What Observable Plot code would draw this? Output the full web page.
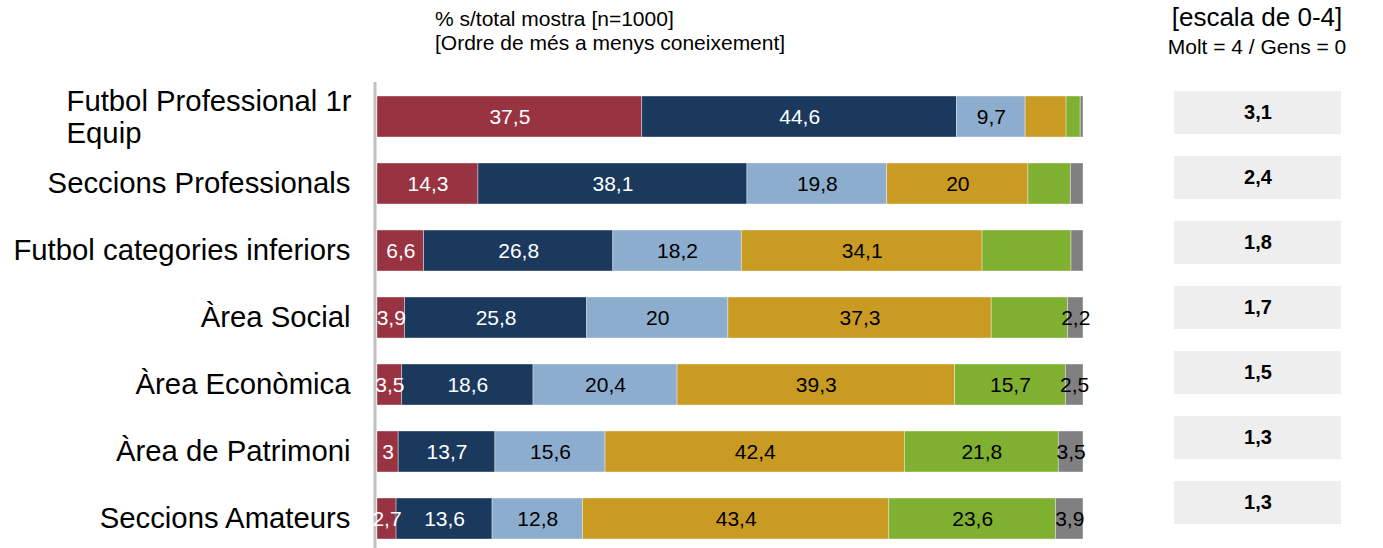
<!DOCTYPE html>
<html>
<head>
<meta charset="utf-8">
<script src="https://cdn.jsdelivr.net/npm/d3@7"></script>
<script src="https://cdn.jsdelivr.net/npm/@observablehq/plot@0.6"></script>
<style>
  html, body { margin: 0; padding: 0; background: #fff; }
  #wrap { position: relative; width: 1383px; height: 548px; overflow: hidden; font-family: "Liberation Sans", Arial, sans-serif; color: #000; }
  .hdr { position: absolute; white-space: nowrap; }
  #h1 { left: 435px; top: 7px; font-size: 21px; line-height: 24px; }
  #h2 { left: 1157px; width: 200px; top: 2px; text-align: center; font-size: 26px; line-height: 30px; }
  #h3 { left: 1157px; width: 200px; top: 35px; text-align: center; font-size: 21px; line-height: 24px; }
  #main { position: absolute; left: 0; top: 60px; }
  #side { position: absolute; left: 1150px; top: 60px; }
</style>
</head>
<body>
<div id="wrap">
  <div class="hdr" id="h1">% s/total mostra [n=1000]<br>[Ordre de més a menys coneixement]</div>
  <div class="hdr" id="h2">[escala de 0-4]</div>
  <div class="hdr" id="h3">Molt = 4 / Gens = 0</div>
  <div id="main"></div>
  <div id="side"></div>
</div>
<script>
const categories = [
  "Futbol Professional 1r Equip",
  "Seccions Professionals",
  "Futbol categories inferiors",
  "Àrea Social",
  "Àrea Econòmica",
  "Àrea de Patrimoni",
  "Seccions Amateurs"
];
const categoryLabels = [
  "Futbol Professional 1r\nEquip",
  "Seccions Professionals",
  "Futbol categories inferiors",
  "Àrea Social",
  "Àrea Econòmica",
  "Àrea de Patrimoni",
  "Seccions Amateurs"
];
const series = ["Molt", "Bastant", "Regular", "Poc", "Gens", "NS/NC"];
const molt    = [37.5, 14.3, 6.6, 3.9, 3.5, 3.0, 2.7];
const bastant = [44.6, 38.1, 26.8, 25.8, 18.6, 13.7, 13.6];
const regular = [9.7, 19.8, 18.2, 20.0, 20.4, 15.6, 12.8];
const poc     = [5.8, 20.0, 34.1, 37.3, 39.3, 42.4, 43.4];
const gens    = [2.0, 6.0, 12.6, 10.8, 15.7, 21.8, 23.6];
const nsnc    = [0.4, 1.8, 1.7, 2.2, 2.5, 3.5, 3.9];
// segments drawn without a value label in the original: [series, category index]
const unlabeled = [["Poc", 0], ["Gens", 0], ["Gens", 1], ["Gens", 2], ["Gens", 3], ["NS/NC", 0], ["NS/NC", 1], ["NS/NC", 2]];
const means = [3.1, 2.4, 1.8, 1.7, 1.5, 1.3, 1.3];
const colors = ["#983342", "#1a395d", "#8cadcd", "#c99b23", "#7fb031", "#808080"];
const whiteText = ["Molt", "Bastant"];

const seriesValues = [molt, bastant, regular, poc, gens, nsnc];
const data = [];
series.forEach((s, si) => {
  categories.forEach((c, ci) => {
    data.push({
      category: c,
      series: s,
      value: seriesValues[si][ci],
      labeled: !unlabeled.some(([us, uc]) => us === s && uc === ci)
    });
  });
});
const fmt = v => String(v).replace(".", ",");

const main = Plot.plot({
  width: 1150,
  height: 488,
  marginLeft: 377,
  marginRight: 67,
  marginTop: 33,
  marginBottom: 5,
  style: { fontFamily: "'Liberation Sans', Arial, sans-serif", background: "transparent" },
  x: { domain: [0, 100], axis: null },
  y: { domain: categories, paddingInner: 0.382, paddingOuter: 0, axis: null },
  color: { domain: series, range: colors },
  marks: [
    Plot.ruleX([0], { stroke: "#c0c0c0", strokeWidth: 3, dx: -2.5, insetTop: -11, insetBottom: -5 }),
    Plot.barX(data, Plot.stackX({ x: "value", y: "category", fill: "series", stroke: "#ffffff", strokeOpacity: 0.5, strokeWidth: 0.75 })),
    Plot.text(data, Plot.stackX({
      x: "value", y: "category", z: "series",
      text: d => (d.labeled && whiteText.includes(d.series)) ? fmt(d.value) : "",
      fill: "white", fontSize: 21
    })),
    Plot.text(data, Plot.stackX({
      x: "value", y: "category", z: "series",
      text: d => (d.labeled && !whiteText.includes(d.series)) ? fmt(d.value) : "",
      fill: "black", fontSize: 21
    })),
    Plot.text(categories, {
      y: d => d, frameAnchor: "left",
      text: d => categoryLabels[categories.indexOf(d)],
      filter: d => !categoryLabels[categories.indexOf(d)].includes("\n"),
      textAnchor: "end", dx: -27, fontSize: 29.3, fill: "black"
    }),
    Plot.text(categories, {
      y: d => d, frameAnchor: "left",
      text: d => categoryLabels[categories.indexOf(d)],
      filter: d => categoryLabels[categories.indexOf(d)].includes("\n"),
      textAnchor: "start", dx: -311, fontSize: 29.3, lineHeight: 1.1, fill: "black"
    })
  ]
});
document.getElementById("main").appendChild(main);

const meanData = categories.map((c, i) => ({ category: c, mean: means[i] }));
const side = Plot.plot({
  width: 233,
  height: 488,
  marginLeft: 24,
  marginRight: 42,
  marginTop: 29,
  marginBottom: 22.5,
  style: { fontFamily: "'Liberation Sans', Arial, sans-serif", background: "transparent" },
  y: { domain: categories, paddingInner: 0.336, paddingOuter: 0, axis: null },
  marks: [
    Plot.cell(meanData, { y: "category", fill: "#eeeeee" }),
    Plot.text(meanData, { y: "category", frameAnchor: "middle", text: d => fmt(d.mean), fontSize: 20, fontWeight: "bold", fill: "black" })
  ]
});
document.getElementById("side").appendChild(side);
</script>
</body>
</html>
